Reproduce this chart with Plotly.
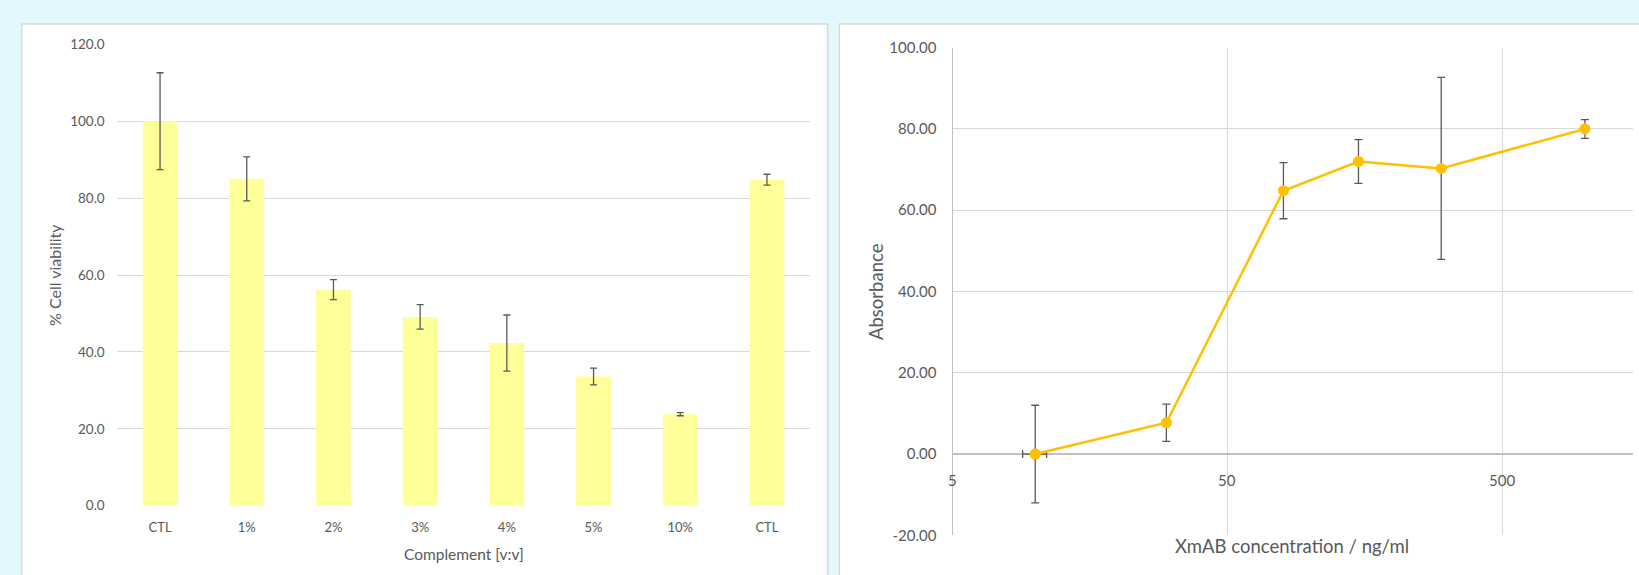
import math
import plotly.graph_objects as go

# ---- data -------------------------------------------------------------
complement_labels = ["CTL", "1%", "2%", "3%", "4%", "5%", "10%", "CTL"]
viability = [100.0, 85.0, 56.2, 49.1, 42.3, 33.6, 23.8, 84.8]
viability_err = [12.6, 5.7, 2.6, 3.2, 7.3, 2.2, 0.4, 1.4]

conc = [10, 30, 80, 150, 300, 1000]          # ng/ml
absorbance = [0.0, 7.7, 64.8, 72.0, 70.3, 80.0]
absorbance_err = [12.0, 4.6, 6.9, 5.4, 22.4, 2.3]
first_conc_err = 1.0                          # horizontal error on the first dose

conc_ticks = [5, 50, 500]
absorbance_ticks = [-20, 0, 20, 40, 60, 80, 100]
absorbance_tick_labels = [f"{v:.2f}" for v in absorbance_ticks]   # plain hyphen minus

# ---- geometry helpers (pixel -> paper) -------------------------------
W, H = 1639, 575
def px(x):
    return x / W
def py(y):
    return 1 - y / H

TEXT = "#595959"
GRID = "#D9D9D9"
FONT = "Lato, Open Sans, sans-serif"

fig = go.Figure()

# left: bar chart
fig.add_trace(go.Bar(
    x=list(range(len(viability))), y=viability,
    width=0.4,
    marker=dict(color="#FFFF99", line=dict(width=0)),
    error_y=dict(type="data", array=viability_err, color=TEXT,
                 thickness=1.3, width=3.5),
    xaxis="x", yaxis="y", showlegend=False,
))

# right: dose-response line, horizontal error on the first point
fig.add_trace(go.Scatter(
    x=conc[:1], y=absorbance[:1], mode="markers",
    marker=dict(size=11, color="#FFC000"),
    error_x=dict(type="data", array=[first_conc_err], color=TEXT,
                 thickness=1.3, width=4),
    xaxis="x2", yaxis="y2", showlegend=False,
))
fig.add_trace(go.Scatter(
    x=conc, y=absorbance, mode="lines+markers",
    line=dict(color="#FFC000", width=2.5),
    marker=dict(size=11, color="#FFC000"),
    error_y=dict(type="data", array=absorbance_err, color=TEXT,
                 thickness=1.3, width=4),
    xaxis="x2", yaxis="y2", showlegend=False,
))

# white chart panels on a pale cyan page
shapes = [
    dict(type="rect", xref="paper", yref="paper",
         x0=px(21.7), x1=px(827.7), y0=-0.1, y1=py(24),
         fillcolor="white", line=dict(color=GRID, width=1.5), layer="below"),
    dict(type="rect", xref="paper", yref="paper",
         x0=px(839.3), x1=1.1, y0=-0.1, y1=py(24),
         fillcolor="white", line=dict(color=GRID, width=1.5), layer="below"),
]

def label(text, x, y, size, angle=0, xref="paper", yref="paper", yshift=0):
    return dict(text=text, x=x, y=y, xref=xref, yref=yref, textangle=angle,
                xanchor="center", yanchor="middle", yshift=yshift,
                showarrow=False, font=dict(size=size, color=TEXT, family=FONT))

annotations = [
    label("% Cell viability", px(54), py(275), 16, angle=-90),
    label("Complement [v:v]", px(463.5), py(554), 15.5),
    label("Absorbance", px(876), py(292), 18.5, angle=-90),
    label("XmAB concentration / ng/ml", px(1292), py(546), 18.5),
]
# concentration tick labels sit just under the zero line
for v in conc_ticks:
    annotations.append(label(str(v), math.log10(v), 0, 15,
                             xref="x2", yref="y2", yshift=-26))

fig.update_layout(
    width=W, height=H,
    margin=dict(l=0, r=0, t=0, b=0, autoexpand=False),
    paper_bgcolor="#E2F8FC",
    plot_bgcolor="rgba(0,0,0,0)",
    font=dict(family=FONT, color=TEXT),
    shapes=shapes,
    annotations=annotations,
    xaxis=dict(
        domain=[px(116.7), px(810.3)], anchor="y", automargin=False,
        range=[-0.5, len(viability) - 0.5],
        tickvals=list(range(len(viability))), ticktext=complement_labels,
        showgrid=False, zeroline=False, showline=False, ticks="",
        tickfont=dict(size=13, color=TEXT), ticklabelstandoff=12,
    ),
    yaxis=dict(
        domain=[py(505.7), py(44.3)], anchor="x", automargin=False,
        range=[0, 120], dtick=20, tickformat=".1f",
        showgrid=True, gridcolor=GRID, gridwidth=1.3,
        zeroline=False, showline=False, ticks="",
        tickfont=dict(size=13.5, color=TEXT), ticklabelstandoff=11,
    ),
    xaxis2=dict(
        domain=[px(952.5), px(1633.3)], anchor="y2", type="log", automargin=False,
        range=[math.log10(5), math.log10(1500)],
        tickvals=conc_ticks, showticklabels=False,
        showgrid=True, gridcolor=GRID, gridwidth=1.3,
        zeroline=False, showline=False, ticks="",
    ),
    yaxis2=dict(
        domain=[py(535.3), py(47.7)], anchor="x2", automargin=False,
        range=[-20, 100],
        tickvals=absorbance_ticks, ticktext=absorbance_tick_labels,
        showgrid=True, gridcolor=GRID, gridwidth=1.3,
        zeroline=True, zerolinecolor="#BFBFBF", zerolinewidth=1.5,
        showline=True, linecolor="#BFBFBF", linewidth=1.3, ticks="",
        tickfont=dict(size=15, color=TEXT), ticklabelstandoff=12,
    ),
)

fig.write_html("out.html")
